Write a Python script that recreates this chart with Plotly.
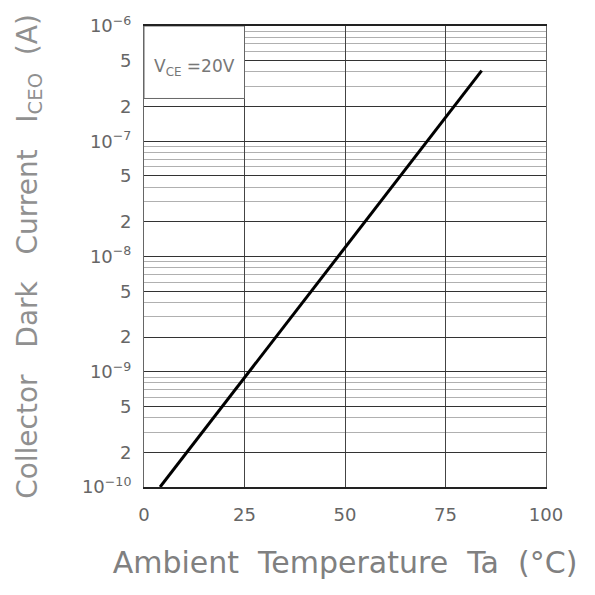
import math
import plotly.graph_objects as go

# Data
temperature_c = [4, 25, 50, 84]
dark_current_a = [1.0e-10, 8.9e-10, 1.2e-8, 4.1e-7]

x_ticks = [0, 25, 50, 75, 100]
x_tick_labels = ["0", "25", "50", "75", "100"]

decades = [1e-10, 1e-9, 1e-8, 1e-7, 1e-6]
decade_labels = ["10<sup>−10</sup>", "10<sup>−9</sup>", "10<sup>−8</sup>", "10<sup>−7</sup>", "10<sup>−6</sup>"]

y_tickvals = []
y_ticktext = []
for i, d in enumerate(decades):
    y_tickvals.append(d)
    y_ticktext.append(decade_labels[i])
    if d < 1e-6:
        y_tickvals += [2 * d, 5 * d]
        y_ticktext += ["2", "5"]

minor_vals = [m * d for d in decades[:-1] for m in (3, 4, 6, 7, 8, 9)]

fig = go.Figure()
fig.add_trace(go.Scatter(
    x=temperature_c, y=dark_current_a, mode="lines",
    line=dict(color="black", width=3), showlegend=False,
))

# white label box in the top-left cell
fig.add_shape(type="rect", xref="x", yref="y", x0=0, x1=25, y0=2.35e-7, y1=1e-6,
              fillcolor="white", line=dict(color="#666", width=1), layer="between")
fig.add_annotation(x=12.5, y=math.log10(4.4e-7), xref="x", yref="y",
                   text="V<sub>CE</sub> =20V", showarrow=False,
                   font=dict(family="DejaVu Sans", size=17, color="#777"))

fig.update_layout(
    width=595, height=595,
    margin=dict(l=144, r=49, t=26, b=108),
    paper_bgcolor="white", plot_bgcolor="white",
    font=dict(family="DejaVu Sans", color="#777"),
    xaxis=dict(
        range=[0, 100], tickmode="array", tickvals=x_ticks, ticktext=x_tick_labels,
        showgrid=True, gridcolor="#444", gridwidth=1,
        showline=True, linecolor="#222", linewidth=2, mirror=True,
        ticks="", tickfont=dict(size=18, color="#666"),
        ticklabelstandoff=10,
        title=dict(text="Ambient  Temperature  Ta  (°C)",
                   font=dict(size=30, color="#808080"), standoff=28),
        zeroline=False,
    ),
    yaxis=dict(
        type="log", range=[-10, -6], tickmode="array",
        tickvals=y_tickvals, ticktext=y_ticktext,
        showgrid=True, gridcolor="#333", gridwidth=1,
        minor=dict(tickmode="array", tickvals=minor_vals, showgrid=True,
                   gridcolor="#b0b0b0", gridwidth=1, ticks=""),
        showline=True, linecolor="#666", linewidth=1, mirror=True,
        ticks="", tickfont=dict(size=18, color="#666"),
        ticklabelstandoff=8,
        title=dict(text="Collector   Dark   Current   I<sub>CEO</sub>  (A)",
                   font=dict(size=28, color="#909090"), standoff=36),
        zeroline=False,
    ),
)

fig.write_html("out.html")
